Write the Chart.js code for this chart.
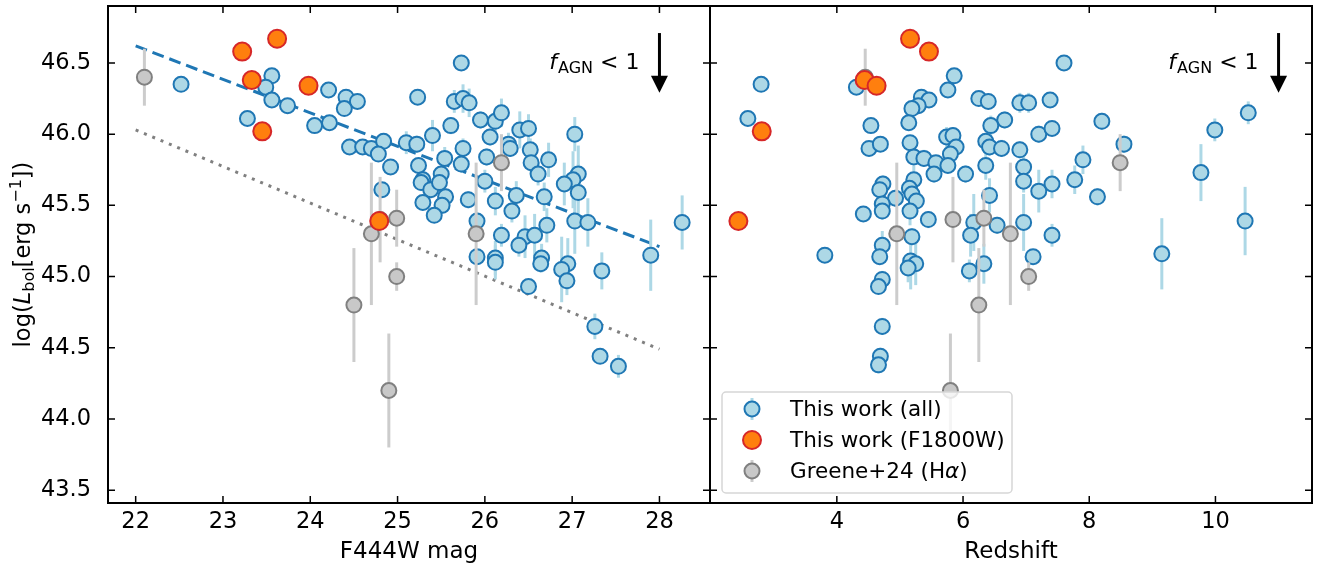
<!DOCTYPE html>
<html>
<head>
<meta charset="utf-8">
<script src="https://cdn.jsdelivr.net/npm/chart.js@4.4.1/dist/chart.umd.min.js"></script>
<style>
body { margin: 0; background: #fff; }
#wrap { position: relative; width: 1317px; height: 567px; }
canvas { position: absolute; top: 0; }
</style>
</head>
<body>
<div id="wrap">
  <canvas id="left" width="712" height="567" style="left:0"></canvas>
  <canvas id="right" width="609" height="567" style="left:708px"></canvas>
</div>
<script>
// this work (all), left panel: F444W mag vs log Lbol
var leftBlueMag = [22.52,23.56,23.49,23.56,23.74,23.28,24.21,24.41,24.54,24.39,
  24.05,24.22,24.45,24.60,24.70,24.84,24.78,24.92,24.82,25.10,
  25.23,25.22,25.73,25.65,25.75,25.82,25.95,26.12,26.19,25.61,
  26.06,25.40,25.75,25.73,25.54,26.02,26.27,26.29,26.40,26.50,
  26.52,26.53,26.73,26.61,27.03,27.07,27.01,26.91,27.07,25.24,
  25.29,25.27,25.38,25.50,25.48,25.55,25.29,25.51,25.42,25.81,
  26.00,26.12,26.36,26.68,26.31,25.91,27.03,27.18,28.26,27.90,
  26.19,26.46,26.57,26.39,26.71,25.91,26.12,26.12,26.65,26.64,
  26.95,26.88,26.94,27.34,26.50,27.26,27.32,27.53];
var leftBlueLum = [46.35,46.41,46.33,46.24,46.20,46.11,46.31,46.26,46.23,46.18,
  46.06,46.08,45.91,45.91,45.90,45.95,45.86,45.77,45.61,45.94,
  46.26,45.93,46.50,46.23,46.25,46.22,46.10,46.09,46.15,46.06,
  45.98,45.99,45.90,45.79,45.83,45.84,45.93,45.90,46.03,46.04,
  45.89,45.80,45.82,45.72,46.00,45.72,45.68,45.65,45.59,45.78,
  45.68,45.66,45.61,45.72,45.66,45.56,45.52,45.50,45.43,45.54,
  45.67,45.53,45.57,45.56,45.46,45.39,45.39,45.38,45.38,45.15,
  45.29,45.28,45.29,45.22,45.36,45.14,45.13,45.10,45.13,45.09,
  45.09,45.05,44.97,45.04,44.93,44.65,44.44,44.37];
var leftBlueErr = [0.03,0.04,0.04,0.04,0.04,0.03,0.04,0.04,0.04,0.04,
  0.04,0.04,0.04,0.04,0.04,0.05,0.05,0.05,0.05,0.08,
  0.05,0.06,0.04,0.08,0.10,0.10,0.06,0.08,0.10,0.06,
  0.06,0.11,0.07,0.06,0.08,0.06,0.08,0.06,0.13,0.10,
  0.08,0.08,0.12,0.08,0.12,0.20,0.20,0.15,0.20,0.05,
  0.06,0.06,0.06,0.06,0.06,0.06,0.05,0.06,0.05,0.06,
  0.08,0.10,0.10,0.10,0.08,0.06,0.23,0.17,0.19,0.25,
  0.08,0.15,0.15,0.08,0.12,0.05,0.12,0.12,0.10,0.06,
  0.18,0.23,0.10,0.13,0.05,0.09,0.05,0.08];

// this work (all), right panel: redshift vs log Lbol
var rightBlueZ = [2.80,2.59,4.31,5.86,5.76,5.34,5.46,5.29,5.19,5.14,
  4.54,4.51,4.69,5.16,5.22,5.38,5.57,5.54,5.74,5.84,
  5.89,5.80,5.76,6.04,6.25,6.40,6.66,6.44,6.36,6.42,
  6.61,6.36,6.42,6.90,6.90,5.22,5.15,5.19,5.26,4.73,
  4.68,4.93,4.72,4.72,5.16,5.45,4.42,3.81,6.17,6.12,
  6.54,6.96,5.19,4.72,4.68,4.72,4.66,4.72,4.69,4.66,
  5.17,5.25,5.13,6.10,6.33,7.60,7.04,7.38,8.20,7.20,
  7.41,6.96,6.96,7.20,7.41,7.77,7.90,8.13,8.55,9.77,
  9.99,10.52,10.47,9.15,7.41,7.11];
var rightBlueLum = [46.35,46.11,46.33,46.41,46.31,46.26,46.24,46.20,46.18,46.08,
  46.06,45.90,45.93,45.94,45.84,45.83,45.80,45.72,45.98,45.99,
  45.91,45.86,45.78,45.72,46.25,46.23,46.10,46.06,45.95,45.91,
  45.90,45.78,45.57,46.22,45.89,45.68,45.62,45.58,45.53,45.65,
  45.61,45.55,45.51,45.46,45.46,45.40,45.44,45.15,45.38,45.29,
  45.36,45.38,45.28,45.22,45.14,44.98,44.93,44.65,44.44,44.38,
  45.11,45.09,45.06,45.04,45.09,46.50,46.22,46.24,46.09,46.00,
  46.04,45.77,45.67,45.60,45.65,45.68,45.82,45.56,45.93,45.73,
  46.03,46.15,45.39,45.16,45.29,45.14];
var rightBlueErr = [0.03,0.03,0.04,0.04,0.04,0.04,0.04,0.04,0.04,0.05,
  0.05,0.05,0.05,0.05,0.05,0.06,0.05,0.06,0.07,0.06,
  0.05,0.05,0.05,0.06,0.05,0.05,0.06,0.07,0.06,0.06,
  0.06,0.10,0.12,0.07,0.06,0.10,0.10,0.12,0.10,0.06,
  0.06,0.06,0.06,0.06,0.10,0.06,0.04,0.04,0.20,0.15,
  0.06,0.20,0.06,0.10,0.05,0.06,0.05,0.06,0.06,0.06,
  0.20,0.15,0.10,0.08,0.14,0.04,0.07,0.05,0.06,0.06,
  0.05,0.10,0.08,0.15,0.10,0.10,0.10,0.06,0.06,0.20,
  0.08,0.08,0.24,0.25,0.08,0.05];

// this work (F1800W)
var orangeMag = [23.22,23.62,23.33,23.98,23.45,24.79];
var orangeZ = [5.46,5.16,4.44,4.63,2.81,2.44];
var orangeLum = [46.58,46.67,46.38,46.34,46.02,45.39];
var orangeErr = [0.03,0.03,0.03,0.03,0.03,0.03];

// Greene+24 (Halpha)
var grayMag = [22.10,24.70,24.99,24.99,24.50,24.90,25.90,26.19,24.80];
var grayZ = [4.45,4.95,6.33,7.04,6.25,5.80,6.75,8.49,5.84];
var grayLum = [46.40,45.30,45.41,45.00,44.80,44.20,45.30,45.80,45.40];
var grayErr = [0.20,0.50,0.20,0.10,0.40,0.40,0.50,0.20,0.30];

// lines in left panel
var fitMag = [22, 28];
var fitLum = [46.62, 45.21];
var relMag = [22, 28];
var relLum = [46.03, 44.49];

// f_AGN < 1 arrow
var arrowLum = [46.71, 46.29];
var arrowMag = 28;
var arrowZ = 11;

var yTicks = [43.5, 44.0, 44.5, 45.0, 45.5, 46.0, 46.5];
var magTicks = [22, 23, 24, 25, 26, 27, 28];
var zTicks = [4, 6, 8, 10];

var FONT = "'DejaVu Sans', sans-serif";
Chart.defaults.font.family = FONT;
Chart.defaults.font.size = 22;
Chart.defaults.color = '#000';

function pts(xs, ys) {
  return xs.map(function (x, i) { return {x: x, y: ys[i]}; });
}

// error bars drawn just before each dataset's markers
var errorBars = {
  id: 'errorBars',
  beforeDatasetDraw: function (chart, args) {
    var ds = chart.data.datasets[args.index];
    if (!ds.errors) return;
    var ctx = chart.ctx, xs = chart.scales.x, ys = chart.scales.y, a = chart.chartArea;
    ctx.save();
    ctx.beginPath();
    ctx.rect(a.left, a.top, a.width, a.height);
    ctx.clip();
    ctx.strokeStyle = ds.errorColor;
    ctx.lineWidth = 3;
    ds.data.forEach(function (p, i) {
      var px = xs.getPixelForValue(p.x);
      ctx.beginPath();
      ctx.moveTo(px, ys.getPixelForValue(p.y - ds.errors[i]));
      ctx.lineTo(px, ys.getPixelForValue(p.y + ds.errors[i]));
      ctx.stroke();
    });
    ctx.restore();
  }
};

// box around the axes with inward ticks on all four sides
var frame = {
  id: 'frame',
  afterDraw: function (chart) {
    var ctx = chart.ctx, a = chart.chartArea, xs = chart.scales.x, ys = chart.scales.y;
    var L = 7;
    ctx.save();
    ctx.strokeStyle = '#000';
    ctx.lineWidth = 1.5;
    ctx.beginPath();
    xs.ticks.forEach(function (t) {
      var p = xs.getPixelForValue(t.value);
      ctx.moveTo(p, a.bottom); ctx.lineTo(p, a.bottom - L);
      ctx.moveTo(p, a.top); ctx.lineTo(p, a.top + L);
    });
    ys.ticks.forEach(function (t) {
      var p = ys.getPixelForValue(t.value);
      ctx.moveTo(a.left, p); ctx.lineTo(a.left + L, p);
      ctx.moveTo(a.right, p); ctx.lineTo(a.right - L, p);
    });
    ctx.stroke();
    ctx.lineWidth = 2;
    ctx.strokeRect(a.left, a.top, a.width, a.height);
    ctx.restore();
  }
};

// f_AGN < 1 label with downward arrow
var agnArrow = {
  id: 'agnArrow',
  afterDatasetsDraw: function (chart, args, o) {
    var ctx = chart.ctx, xs = chart.scales.x, ys = chart.scales.y;
    var px = xs.getPixelForValue(o.x);
    var y0 = ys.getPixelForValue(arrowLum[0]);
    var y1 = ys.getPixelForValue(arrowLum[1]);
    ctx.save();
    ctx.strokeStyle = '#000';
    ctx.fillStyle = '#000';
    ctx.lineWidth = 3;
    ctx.beginPath();
    ctx.moveTo(px, y0);
    ctx.lineTo(px, y1 - 16);
    ctx.stroke();
    ctx.beginPath();
    ctx.moveTo(px - 8.5, y1 - 17);
    ctx.lineTo(px + 8.5, y1 - 17);
    ctx.lineTo(px, y1);
    ctx.closePath();
    ctx.fill();

    var base = (y0 + y1) / 2 + 6;
    var fMain = '22px ' + FONT, fIt = 'italic 22px ' + FONT, fSub = '16px ' + FONT;
    ctx.font = fIt; var wf = ctx.measureText('f').width;
    ctx.font = fSub; var ws = ctx.measureText('AGN').width;
    ctx.font = fMain; var wr = ctx.measureText(' < 1').width;
    var x = px - 20 - (wf + 1 + ws + wr);
    ctx.textBaseline = 'alphabetic';
    ctx.textAlign = 'left';
    ctx.font = fIt; ctx.fillText('f', x, base);
    ctx.font = fSub; ctx.fillText('AGN', x + wf + 1, base + 4);
    ctx.font = fMain; ctx.fillText(' < 1', x + wf + 1 + ws, base);
    ctx.restore();
  }
};

// rotated y title with sub/superscript
var yTitle = {
  id: 'yTitle',
  afterDraw: function (chart) {
    var ctx = chart.ctx, a = chart.chartArea;
    var parts = [
      {t: 'log(', f: '22.5px ' + FONT, dy: 0},
      {t: 'L', f: 'italic 22.5px ' + FONT, dy: 0},
      {t: 'bol', f: '16px ' + FONT, dy: 4},
      {t: '[erg s', f: '22.5px ' + FONT, dy: 0},
      {t: '\u22121', f: '16px ' + FONT, dy: -9},
      {t: '])', f: '22.5px ' + FONT, dy: 0}
    ];
    ctx.save();
    var total = 0;
    parts.forEach(function (p) { ctx.font = p.f; p.w = ctx.measureText(p.t).width; total += p.w; });
    ctx.translate(30, (a.top + a.bottom) / 2);
    ctx.rotate(-Math.PI / 2);
    ctx.fillStyle = '#000';
    ctx.textBaseline = 'alphabetic';
    var x = -total / 2;
    parts.forEach(function (p) { ctx.font = p.f; ctx.fillText(p.t, x, p.dy); x += p.w; });
    ctx.restore();
  }
};

// legend box inside the right panel
var boxLegend = {
  id: 'boxLegend',
  afterDraw: function (chart) {
    var ctx = chart.ctx, a = chart.chartArea;
    var bx = a.left + 12, by = a.bottom - 111, bw = 290, bh = 101;
    ctx.save();
    ctx.beginPath();
    ctx.roundRect(bx, by, bw, bh, 4);
    ctx.fillStyle = 'rgba(255,255,255,0.8)';
    ctx.fill();
    ctx.strokeStyle = '#d6d6d6';
    ctx.lineWidth = 1.5;
    ctx.stroke();
    var rows = [
      {label: ['This work (all)'], fill: '#add8e6', edge: '#1f77b4', r: 7.5, bar: '#add8e6'},
      {label: ['This work (F1800W)'], fill: '#ff7f0e', edge: '#d62728', r: 9, bar: null},
      {label: ['Greene+24 (H', '\u03b1', ')'], fill: '#c8c8c8', edge: '#808080', r: 7.5, bar: '#cccccc'}
    ];
    rows.forEach(function (row, i) {
      var cy = by + 17 + i * 31, cx = bx + 30;
      if (row.bar) {
        ctx.strokeStyle = row.bar; ctx.lineWidth = 3;
        ctx.beginPath(); ctx.moveTo(cx, cy - 11); ctx.lineTo(cx, cy + 11); ctx.stroke();
      }
      ctx.beginPath(); ctx.arc(cx, cy, row.r, 0, Math.PI * 2);
      ctx.fillStyle = row.fill; ctx.fill();
      ctx.strokeStyle = row.edge; ctx.lineWidth = 2; ctx.stroke();
      ctx.fillStyle = '#000';
      ctx.textBaseline = 'middle';
      var tx = bx + 68;
      row.label.forEach(function (s, k) {
        ctx.font = (k === 1 ? 'italic ' : '') + '21.5px ' + FONT;
        ctx.fillText(s, tx, cy + 1);
        tx += ctx.measureText(s).width;
      });
    });
    ctx.restore();
  }
};

function blueSet(xs, ys, errs) {
  return {type: 'scatter', data: pts(xs, ys), errors: errs, errorColor: '#add8e6',
    backgroundColor: '#add8e6', borderColor: '#1f77b4', borderWidth: 2, pointRadius: 7.5, order: 3};
}
function graySet(xs) {
  return {type: 'scatter', data: pts(xs, grayLum), errors: grayErr, errorColor: '#cccccc',
    backgroundColor: '#c8c8c8', borderColor: '#808080', borderWidth: 2, pointRadius: 7.5, order: 2};
}
function orangeSet(xs) {
  return {type: 'scatter', data: pts(xs, orangeLum), errors: orangeErr, errorColor: '#cccccc',
    backgroundColor: '#ff7f0e', borderColor: '#d62728', borderWidth: 2, pointRadius: 9, order: 1};
}

function xScale(min, max, ticks, title) {
  return {
    type: 'linear', min: min, max: max,
    afterBuildTicks: function (s) { s.ticks = ticks.map(function (v) { return {value: v}; }); },
    afterFit: function (s) { s.height = 64; s.paddingLeft = 0; s.paddingRight = 0; },
    grid: {display: false}, border: {display: false},
    ticks: {padding: -2, font: {size: 22.5}, callback: function (v) { return String(v); }},
    title: {display: true, text: title, font: {size: 23}, padding: {top: 0, bottom: 1}}
  };
}
function yScale(showLabels) {
  return {
    type: 'linear', min: 43.41, max: 46.9,
    afterBuildTicks: function (s) { s.ticks = yTicks.map(function (v) { return {value: v}; }); },
    afterFit: function (s) { s.width = showLabels ? 108 : 0; s.paddingTop = 0; s.paddingBottom = 0; },
    grid: {display: false}, border: {display: false},
    ticks: {display: showLabels, padding: 9, font: {size: 22.5},
      callback: function (v) { return Number(v).toFixed(1); }}
  };
}

var common = {
  responsive: false,
  animation: false,
  events: [],
  plugins: {legend: {display: false}, tooltip: {enabled: false}}
};

new Chart(document.getElementById('left'), {
  type: 'scatter',
  data: {
    datasets: [
      orangeSet(orangeMag),
      graySet(grayMag),
      blueSet(leftBlueMag, leftBlueLum, leftBlueErr),
      {type: 'line', data: pts(fitMag, fitLum), borderColor: '#1f77b4', borderWidth: 3,
        borderDash: [12, 6], pointRadius: 0, fill: false, order: 4},
      {type: 'line', data: pts(relMag, relLum), borderColor: '#808080', borderWidth: 3,
        borderDash: [3, 6], pointRadius: 0, fill: false, order: 5}
    ]
  },
  options: Object.assign({}, common, {
    layout: {autoPadding: false, padding: {top: 6, right: 2, left: 0, bottom: 0}},
    scales: {x: xScale(21.683, 28.579, magTicks, 'F444W mag'), y: yScale(true)},
    plugins: Object.assign({}, common.plugins, {agnArrow: {x: arrowMag}})
  }),
  plugins: [errorBars, agnArrow, frame, yTitle]
});

new Chart(document.getElementById('right'), {
  type: 'scatter',
  data: {
    datasets: [
      orangeSet(orangeZ),
      graySet(grayZ),
      blueSet(rightBlueZ, rightBlueLum, rightBlueErr)
    ]
  },
  options: Object.assign({}, common, {
    layout: {autoPadding: false, padding: {top: 6, right: 5, left: 2, bottom: 0}},
    scales: {x: xScale(1.99, 11.53, zTicks, 'Redshift'), y: yScale(false)},
    plugins: Object.assign({}, common.plugins, {agnArrow: {x: arrowZ}})
  }),
  plugins: [errorBars, agnArrow, boxLegend, frame]
});
</script>
</body>
</html>
